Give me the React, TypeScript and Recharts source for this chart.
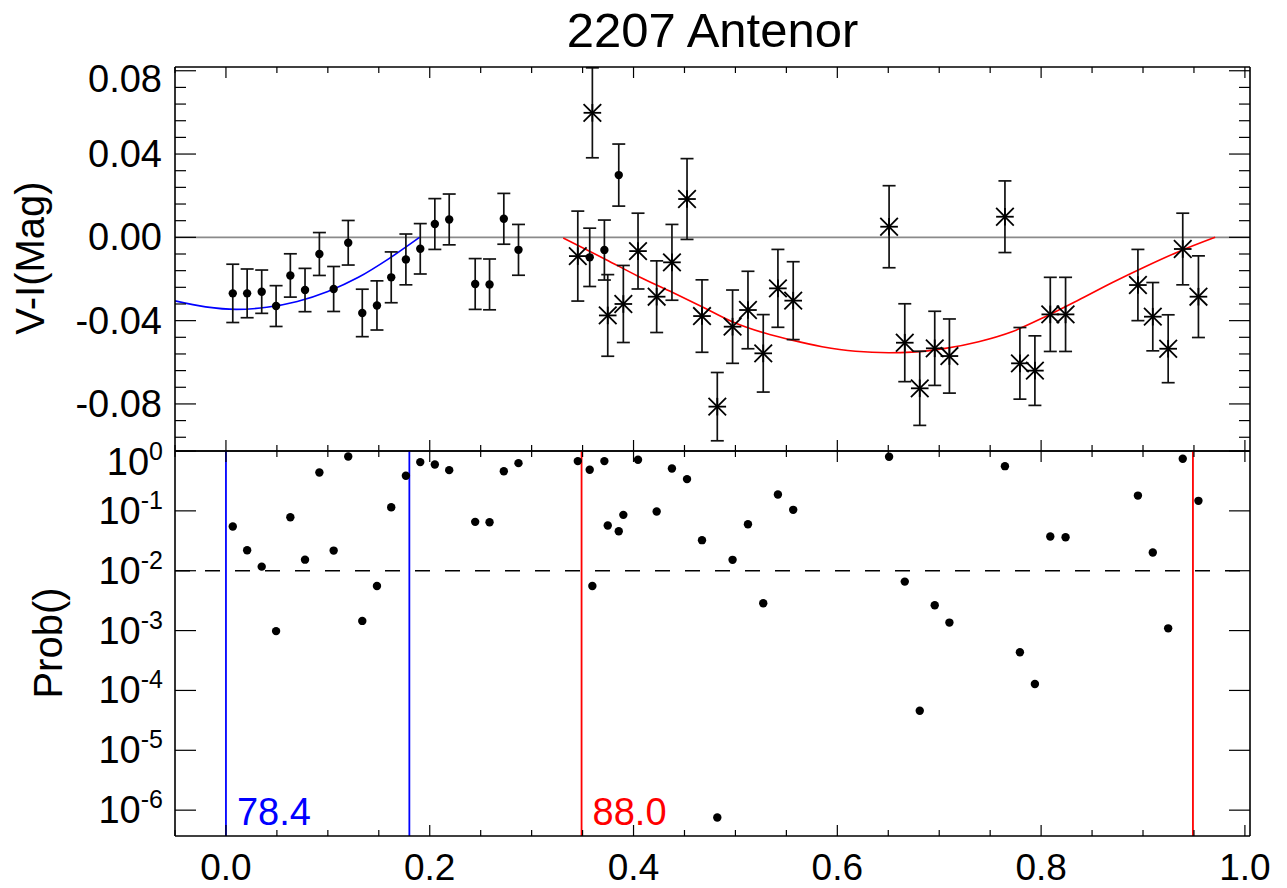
import React from 'react';
import { ComposedChart, Scatter, Line, XAxis, YAxis, ErrorBar, ReferenceLine } from 'recharts';

// phase of each observation (shared by both panels)
const phases = [0.0067, 0.0208, 0.0351, 0.0492, 0.0632, 0.0776, 0.0917, 0.1057, 0.120, 0.1338,
  0.1482, 0.1622, 0.1766, 0.1907, 0.205, 0.2191, 0.2446, 0.2587, 0.2727, 0.2871,
  0.3453, 0.357, 0.3596, 0.3714, 0.3747, 0.3855, 0.39, 0.4044, 0.4227, 0.4377,
  0.4525, 0.4672, 0.4822, 0.4972, 0.5123, 0.5273, 0.5417, 0.5567, 0.6508, 0.6662,
  0.6809, 0.6956, 0.71, 0.7645, 0.7792, 0.7939, 0.809, 0.824, 0.895, 0.9096,
  0.9247, 0.939, 0.9544];

const colorIndex = [-0.0269, -0.0269, -0.0261, -0.033, -0.0183, -0.0253, -0.008, -0.0248, -0.0026, -0.0363,
  -0.0327, -0.0192, -0.0106, -0.0055, 0.0064, 0.0086, -0.0224, -0.0226, 0.0089, -0.006,
  -0.009, -0.0096, 0.0598, -0.0061, -0.0375, 0.0299, -0.032, -0.0066, -0.0285, -0.012,
  0.0184, -0.0378, -0.0813, -0.0429, -0.0349, -0.0557, -0.0245, -0.0304, 0.0051, -0.0506,
  -0.0725, -0.0533, -0.057, 0.0099, -0.0605, -0.064, -0.037, -0.037, -0.0229, -0.0381,
  -0.0535, -0.0056, -0.0285];

const colorErr = [0.014, 0.0117, 0.0104, 0.0098, 0.0104, 0.0104, 0.0103, 0.0108, 0.0107, 0.0114,
  0.0118, 0.0122, 0.0122, 0.0121, 0.0122, 0.0122, 0.0122, 0.0122, 0.0122, 0.0122,
  0.0216, 0.014, 0.0216, 0.0144, 0.0196, 0.0149, 0.0185, 0.0182, 0.0172, 0.0182,
  0.0194, 0.0174, 0.0164, 0.0176, 0.0186, 0.0186, 0.0187, 0.0187, 0.0197, 0.0187,
  0.0178, 0.0178, 0.0178, 0.0172, 0.0172, 0.0167, 0.0178, 0.0178, 0.0171, 0.0164,
  0.0163, 0.0172, 0.0196];

// 'd' = filled dot, 's' = asterisk
const markerKind = ['d', 'd', 'd', 'd', 'd', 'd', 'd', 'd', 'd', 'd',
  'd', 'd', 'd', 'd', 'd', 'd', 'd', 'd', 'd', 'd',
  's', 'd', 's', 'd', 's', 'd', 's', 's', 's', 's',
  's', 's', 's', 's', 's', 's', 's', 's', 's', 's',
  's', 's', 's', 's', 's', 's', 's', 's', 's', 's',
  's', 's', 's'];

const probability = [0.0547, 0.022, 0.0117, 0.00098, 0.078, 0.0153, 0.437, 0.0217, 0.81, 0.00145,
  0.00557, 0.115, 0.385, 0.652, 0.596, 0.479, 0.0655, 0.0646, 0.46, 0.627,
  0.678, 0.485, 0.00557, 0.678, 0.0568, 0.0457, 0.0857, 0.713, 0.0975, 0.51,
  0.339, 0.0324, 7.55e-7, 0.0152, 0.0598, 0.00286, 0.1875, 0.104, 0.8, 0.00658,
  4.58e-5, 0.00265, 0.00136, 0.558, 0.000434, 0.000128, 0.0372, 0.0363, 0.18, 0.0201,
  0.00109, 0.741, 0.147];

// fitted curves
const blueFitPhase = [-0.05, -0.02, 0.01, 0.04, 0.07, 0.10, 0.13, 0.16, 0.19];
const blueFitValue = [-0.0305, -0.0334, -0.0346, -0.0336, -0.0308, -0.0260, -0.0192, -0.0102, 0.0];
const redFitPhase = [0.331, 0.3727, 0.4054, 0.438, 0.4672, 0.4969, 0.5296, 0.5525, 0.5851, 0.6178,
  0.6505, 0.6733, 0.706, 0.7387, 0.7714, 0.8041, 0.8368, 0.8695, 0.9021, 0.9348, 0.9708];
const redFitValue = [-0.0003, -0.0106, -0.0189, -0.0264, -0.0333, -0.0405, -0.0461, -0.049, -0.0525, -0.0547,
  -0.0554, -0.0551, -0.0533, -0.0501, -0.0453, -0.0381, -0.0301, -0.0218, -0.0141, -0.0069, 0.0];

const blueLimits = [0.0, 0.18];
const redLimits = [0.349, 0.949];
const blueLabel = '78.4';
const redLabel = '88.0';
const probThreshold = 0.01;

const xTicks = [-0.05, 0, 0.05, 0.1, 0.15, 0.2, 0.25, 0.3, 0.35, 0.4, 0.45, 0.5, 0.55, 0.6, 0.65, 0.7, 0.75, 0.8, 0.85, 0.9, 0.95, 1.0];
const xMajor = [0, 0.2, 0.4, 0.6, 0.8, 1.0];
const yTicks = [-0.096, -0.088, -0.08, -0.072, -0.064, -0.056, -0.048, -0.04, -0.032, -0.024, -0.016, -0.008,
  0, 0.008, 0.016, 0.024, 0.032, 0.04, 0.048, 0.056, 0.064, 0.072, 0.08];
const yMajor = [-0.08, -0.04, 0, 0.04, 0.08];
const probTicks = [1e-6, 1e-5, 1e-4, 1e-3, 1e-2, 1e-1, 1];
const probExp = ['-6', '-5', '-4', '-3', '-2', '-1', '0'];

const FONT = '"Liberation Sans", Arial, Helvetica, sans-serif';
const W = 1287;
const H = 888;
const LEFT = 175;
const RIGHT = 1250;
const TOP = 67;
const MID = 451;
const BOTTOM = 836;

const isMajor = (v: number, list: number[]) => list.some(m => Math.abs(m - v) < 1e-6);

const colorData = phases.map((p, i) => ({ phase: p, vi: colorIndex[i], err: colorErr[i], kind: markerKind[i] }));
const probData = phases.map((p, i) => ({ phase: p, prob: probability[i] }));
const blueFit = blueFitPhase.map((p, i) => ({ phase: p, vi: blueFitValue[i] }));
const redFit = redFitPhase.map((p, i) => ({ phase: p, vi: redFitValue[i] }));

const makeXTick = (dir: number, labels: boolean) => (props: any) => {
  const { x, y, payload } = props;
  const major = isMajor(payload.value, xMajor);
  const len = major ? 11 : 6;
  return (
    <g>
      <line x1={x} x2={x} y1={y} y2={y + dir * len} stroke="#000" strokeWidth={1.2} />
      {labels && major && (
        <text x={x} y={y + 44} textAnchor="middle" fontSize={37} fontFamily={FONT} fill="#000">
          {payload.value.toFixed(1)}
        </text>
      )}
    </g>
  );
};

const makeYTick = (dir: number, labels: boolean) => (props: any) => {
  const { x, y, payload } = props;
  const major = isMajor(payload.value, yMajor);
  const len = major ? 21 : 11;
  const shift = payload.value > 0.07 ? 8 : 0;
  return (
    <g>
      <line x1={x} x2={x + dir * len} y1={y} y2={y} stroke="#000" strokeWidth={1.2} />
      {labels && major && (
        <text x={x - 13} y={y + 13 + shift} textAnchor="end" fontSize={38} fontFamily={FONT} fill="#000">
          {payload.value.toFixed(2)}
        </text>
      )}
    </g>
  );
};

const makeLogTick = (dir: number, labels: boolean) => (props: any) => {
  const { x, y, payload, index } = props;
  const shift = payload.value >= 1 ? 11 : 0;
  return (
    <g>
      <line x1={x} x2={x + dir * 21} y1={y} y2={y} stroke="#000" strokeWidth={1.2} />
      {labels && (
        <text x={x - 12} y={y + 13 + shift} textAnchor="end" fontSize={38} fontFamily={FONT} fill="#000">
          10<tspan dy={-15} fontSize={25}>{probExp[index]}</tspan>
        </text>
      )}
    </g>
  );
};

const Marker = (props: any) => {
  const { cx, cy, payload } = props;
  if (payload.kind === 'd') return <circle cx={cx} cy={cy} r={4.2} fill="#000" />;
  const s = 8.8;
  return (
    <g stroke="#000" strokeWidth={1.8}>
      <line x1={cx - s} y1={cy} x2={cx + s} y2={cy} />
      <line x1={cx} y1={cy - s} x2={cx} y2={cy + s} />
      <line x1={cx - s} y1={cy - s} x2={cx + s} y2={cy + s} />
      <line x1={cx - s} y1={cy + s} x2={cx + s} y2={cy - s} />
    </g>
  );
};

const limitLabel = (text: string, color: string) => (props: any) => {
  const vb = props.viewBox;
  if (!text) return null;
  return (
    <text x={vb.x + 11} y={vb.y + vb.height - 11} fontSize={38} fontFamily={FONT} fill={color}>
      {text}
    </text>
  );
};

export default function App() {
  const axisStroke = { stroke: '#000', strokeWidth: 1.6 };
  // axes get 1px of room (a zero-size axis is not drawn), taken out of the margins
  return (
    <div style={{ position: 'absolute', left: 0, top: 0, width: W, height: H, background: '#fff' }}>
      <div style={{ position: 'absolute', left: 0, top: 0 }}>
        <ComposedChart width={W} height={H} margin={{ top: TOP - 1, right: W - RIGHT - 1, bottom: H - MID - 1, left: LEFT - 1 }}>
          <XAxis dataKey="phase" type="number" domain={[-0.05, 1.005]} allowDataOverflow ticks={xTicks} interval={0}
            height={1} tickSize={0} tickMargin={0} axisLine={axisStroke} tick={makeXTick(-1, false)} />
          <XAxis xAxisId="top" orientation="top" dataKey="phase" type="number" domain={[-0.05, 1.005]} allowDataOverflow
            ticks={xTicks} interval={0} height={1} tickSize={0} tickMargin={0} axisLine={axisStroke} tick={makeXTick(1, false)} />
          <YAxis type="number" domain={[-0.1026, 0.0818]} allowDataOverflow ticks={yTicks} interval={0}
            width={1} tickSize={0} tickMargin={0} axisLine={axisStroke} tick={makeYTick(1, true)} />
          <YAxis yAxisId="right" orientation="right" type="number" domain={[-0.1026, 0.0818]} allowDataOverflow ticks={yTicks}
            interval={0} width={1} tickSize={0} tickMargin={0} axisLine={axisStroke} tick={makeYTick(-1, false)} />
          <ReferenceLine y={0} stroke="#8a8a8a" strokeWidth={1.6} />
          <Line data={blueFit} dataKey="vi" type="monotone" stroke="#0000ff" strokeWidth={1.6} dot={false} isAnimationActive={false} />
          <Line data={redFit} dataKey="vi" type="monotone" stroke="#ff0000" strokeWidth={1.6} dot={false} isAnimationActive={false} />
          <Scatter data={colorData} dataKey="vi" shape={Marker} isAnimationActive={false}>
            <ErrorBar dataKey="err" direction="y" width={6.5} stroke="#111" strokeWidth={1.7} isAnimationActive={false} />
          </Scatter>
        </ComposedChart>
      </div>
      <div style={{ position: 'absolute', left: 0, top: 0 }}>
        <ComposedChart width={W} height={H} margin={{ top: MID - 1, right: W - RIGHT - 1, bottom: H - BOTTOM - 1, left: LEFT - 1 }}>
          <XAxis dataKey="phase" type="number" domain={[-0.05, 1.005]} allowDataOverflow ticks={xTicks} interval={0}
            height={1} tickSize={0} tickMargin={0} axisLine={axisStroke} tick={makeXTick(-1, true)} />
          <XAxis xAxisId="top" orientation="top" dataKey="phase" type="number" domain={[-0.05, 1.005]} allowDataOverflow
            ticks={xTicks} interval={0} height={1} tickSize={0} tickMargin={0} axisLine={axisStroke} tick={makeXTick(1, false)} />
          <YAxis type="number" scale="log" domain={[3.7e-7, 1]} allowDataOverflow ticks={probTicks} interval={0}
            width={1} tickSize={0} tickMargin={0} axisLine={axisStroke} tick={makeLogTick(1, true)} />
          <YAxis yAxisId="right" orientation="right" type="number" scale="log" domain={[3.7e-7, 1]} allowDataOverflow
            ticks={probTicks} interval={0} width={1} tickSize={0} tickMargin={0} axisLine={axisStroke} tick={makeLogTick(-1, false)} />
          <ReferenceLine y={probThreshold} stroke="#000" strokeWidth={1.6} strokeDasharray="15 15" />
          {blueLimits.map((v, i) => (
            <ReferenceLine key={'b' + i} x={v} stroke="#0000ff" strokeWidth={1.8}
              label={limitLabel(i === 0 ? blueLabel : '', '#0000ff')} />
          ))}
          {redLimits.map((v, i) => (
            <ReferenceLine key={'r' + i} x={v} stroke="#ff0000" strokeWidth={1.8}
              label={limitLabel(i === 0 ? redLabel : '', '#ff0000')} />
          ))}
          <Scatter data={probData} dataKey="prob" fill="#000" shape={(p: any) => <circle cx={p.cx} cy={p.cy} r={4.2} fill="#000" />}
            isAnimationActive={false} />
        </ComposedChart>
      </div>
      <svg width={W} height={H} style={{ position: 'absolute', left: 0, top: 0, pointerEvents: 'none' }}>
        <text x={(LEFT + RIGHT) / 2} y={47} textAnchor="middle" fontSize={49} fontFamily={FONT} fill="#000">
          2207 Antenor
        </text>
        <text transform="translate(44,258) rotate(-90)" textAnchor="middle" fontSize={40} fontFamily={FONT} fill="#000">
          V-I(Mag)
        </text>
        <text transform="translate(62,643) rotate(-90)" textAnchor="middle" fontSize={40} fontFamily={FONT} fill="#000">
          Prob()
        </text>
      </svg>
    </div>
  );
}
